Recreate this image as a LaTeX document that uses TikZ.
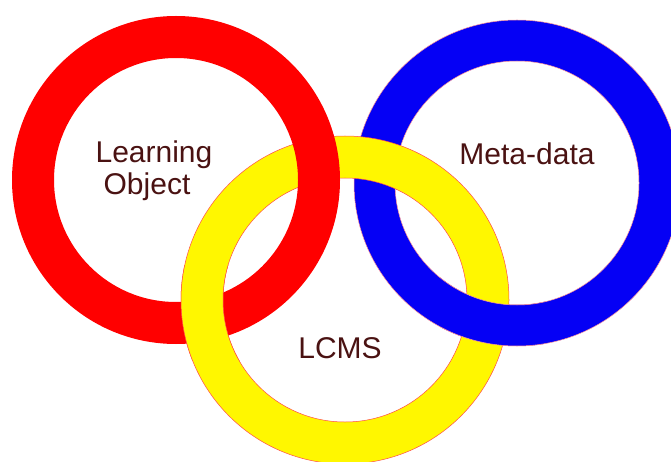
\documentclass[tikz,border=0pt]{standalone}
\usepackage{fontspec}
\setmainfont{Liberation Sans}
\definecolor{labelbrown}{HTML}{4A1212}
\definecolor{ringred}{HTML}{FF0000}
\definecolor{ringyellow}{HTML}{FFF700}
\definecolor{ringblue}{HTML}{0500F5}
\begin{document}
\begin{tikzpicture}[x=1pt,y=-1pt,
  ringfill/.style={even odd rule},
  edge/.style={draw=ringred!70,line width=0.5pt},
  label/.style={text=labelbrown,font=\fontsize{30}{32}\selectfont,anchor=base,inner sep=0pt}]
  \useasboundingbox (0,0) rectangle (671,462);
  \clip (0,0) rectangle (671,462);
  % ring centres
  \coordinate (cr) at (176,180);
  \coordinate (cy) at (345,300);
  \coordinate (cb) at (517,183);
  % blue, then yellow, then red
  \fill[ringblue,ringfill] (cb) circle (163pt) (cb) circle (122pt);
  \draw[edge,draw=ringred!40] (cb) circle (163pt) (cb) circle (122pt);
  \fill[ringyellow,ringfill] (cy) circle (164pt) (cy) circle (122pt);
  \draw[edge] (cy) circle (164pt) (cy) circle (122pt);
  \fill[ringred,ringfill] (cr) circle (164pt) (cr) circle (122pt);
  % yellow passes over red at the lower left crossing
  \begin{scope}
    \clip (165,265) rectangle (245,360);
    \fill[ringyellow,ringfill] (cy) circle (164pt) (cy) circle (122pt);
    \draw[edge] (cy) circle (164pt) (cy) circle (122pt);
  \end{scope}
  % blue passes over yellow at the lower right crossing
  \begin{scope}
    \clip (440,245) rectangle (545,370);
    \fill[ringblue,ringfill] (cb) circle (163pt) (cb) circle (122pt);
    \draw[edge,draw=ringred!40] (cb) circle (163pt) (cb) circle (122pt);
  \end{scope}
  % labels
  \node[label] (learning) at (154,163) {Learning};
  \node[label] (object) at (147,195) {Object};
  \node[label] (meta) at (527,165) {Meta-data};
  \node[label] (lcms) at (340,358) {LCMS};
\end{tikzpicture}
\end{document}
